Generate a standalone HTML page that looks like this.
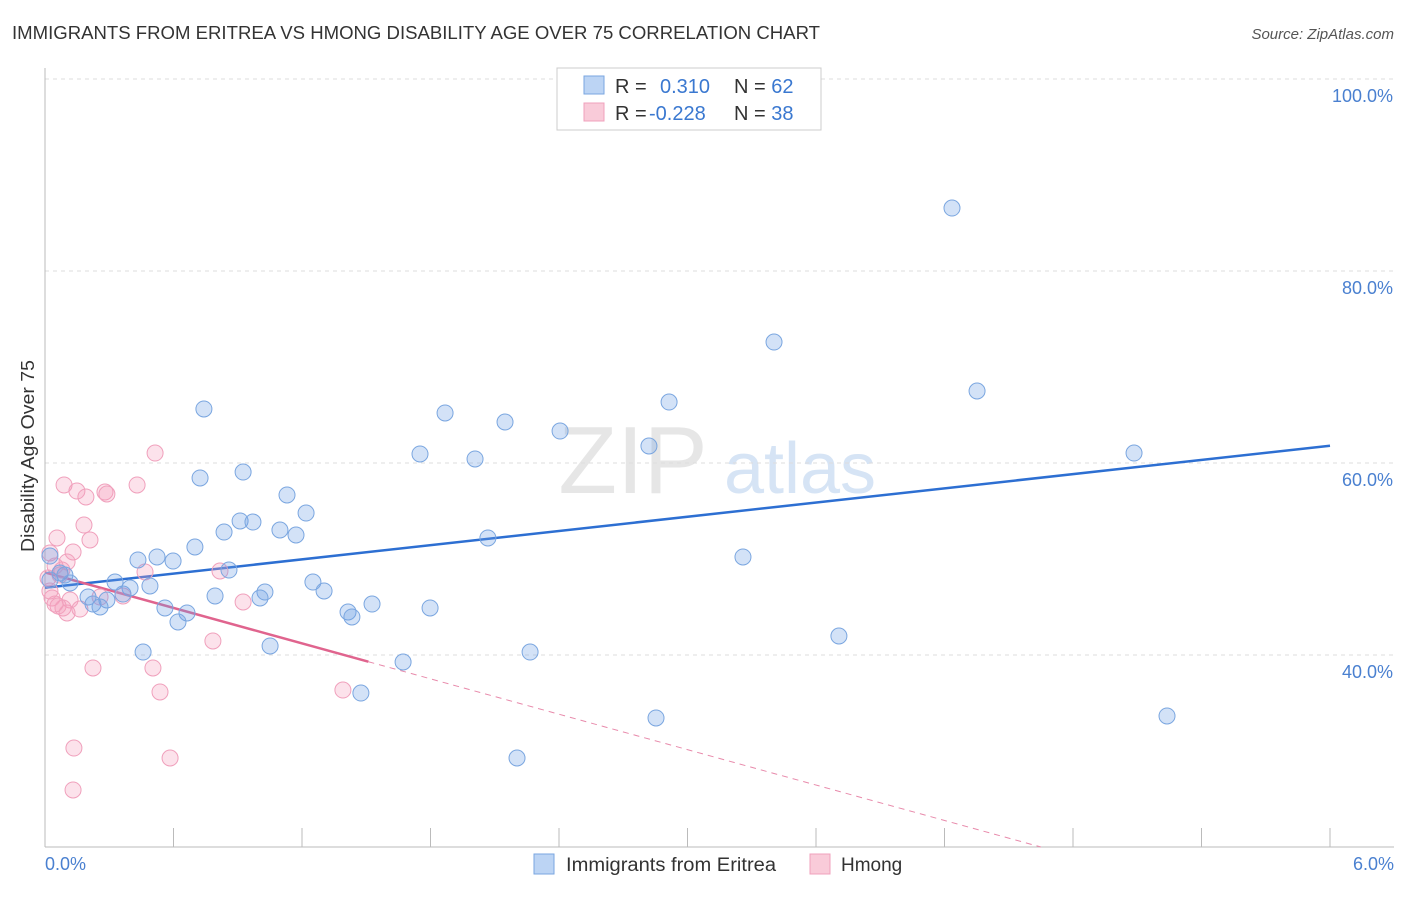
<!DOCTYPE html>
<html><head><meta charset="utf-8"><style>
body{margin:0;background:#fff;font-family:"Liberation Sans",sans-serif;}
svg text{font-family:"Liberation Sans",sans-serif;}
</style></head><body>
<svg id="chart" width="1406" height="892" xmlns="http://www.w3.org/2000/svg">
<text x="12" y="39" font-size="18" fill="#333" textLength="808" lengthAdjust="spacingAndGlyphs">IMMIGRANTS FROM ERITREA VS HMONG DISABILITY AGE OVER 75 CORRELATION CHART</text>
<text x="1394" y="39" font-size="15" fill="#555" font-style="italic" text-anchor="end">Source: ZipAtlas.com</text>
<text x="633" y="493" font-size="96" fill="#e6e6e6" font-family="Liberation Serif" text-anchor="middle">ZIP</text>
<text x="800" y="493" font-size="72" fill="#d6e4f5" text-anchor="middle">atlas</text>
<g id="grid"></g><g id="axes"></g><g id="lines"></g><g id="pts"></g>
<text transform="translate(34,456) rotate(-90)" font-size="18" fill="#333" text-anchor="middle" textLength="192" lengthAdjust="spacingAndGlyphs">Disability Age Over 75</text>
<text x="45" y="870" font-size="18" fill="#4a80d0">0.0%</text>
<text x="1394" y="870" font-size="18" fill="#4a80d0" text-anchor="end">6.0%</text>
<g>
<rect x="557" y="68" width="264" height="62" fill="#fff" stroke="#ccc"/>
<rect x="584" y="76" width="20" height="18" fill="#bcd4f4" stroke="#7aa6e0"/>
<rect x="584" y="103" width="20" height="18" fill="#f9cbd9" stroke="#f0a0bc"/>
<text x="615" y="93" font-size="20" fill="#333">R = <tspan fill="#3a78d0" x="660">0.310</tspan><tspan x="734" fill="#333">N = </tspan><tspan fill="#3a78d0">62</tspan></text>
<text x="615" y="120" font-size="20" fill="#333">R = <tspan fill="#3a78d0" x="649">-0.228</tspan><tspan x="734" fill="#333">N = </tspan><tspan fill="#3a78d0">38</tspan></text>
</g>
<g>
<rect x="534" y="854" width="20" height="20" fill="#bcd4f4" stroke="#7aa6e0"/>
<text x="566" y="871" font-size="19" fill="#333" textLength="210" lengthAdjust="spacingAndGlyphs">Immigrants from Eritrea</text>
<rect x="810" y="854" width="20" height="20" fill="#f9cbd9" stroke="#f0a0bc"/>
<text x="841" y="871" font-size="19" fill="#333">Hmong</text>
</g>
</svg>
<script>
const yTicks=[40,60,80,100];
const yTickLabels=["40.0%","60.0%","80.0%","100.0%"];
const xTicks=[0,0.6,1.2,1.8,2.4,3.0,3.6,4.2,4.8,5.4,6.0];
const bluePx=[[952,208],[774,342],[977,391],[204,409],[445,413],[669,402],[505,422],[560,431],[649,446],[1134,453],[420,454],[475,459],[243,472],[200,478],[287,495],[306,513],[240,521],[253,522],[224,532],[280,530],[296,535],[488,538],[195,547],[157,557],[173,561],[138,560],[743,557],[229,570],[313,582],[150,586],[115,582],[130,588],[123,594],[265,592],[324,591],[215,596],[260,598],[88,597],[107,600],[93,604],[100,607],[165,608],[187,613],[178,622],[372,604],[348,612],[352,617],[430,608],[839,636],[143,652],[270,646],[403,662],[530,652],[361,693],[656,718],[1167,716],[517,758],[50,556],[50,580],[60,573],[65,575],[70,583]];
const pinkPx=[[155,453],[64,485],[77,491],[105,492],[137,485],[86,497],[107,494],[84,525],[57,538],[90,540],[73,552],[50,553],[67,562],[55,566],[145,572],[220,571],[60,575],[48,578],[52,598],[70,600],[58,606],[80,609],[67,613],[123,596],[243,602],[213,641],[93,668],[153,668],[160,692],[343,690],[74,748],[170,758],[73,790],[63,608],[55,604],[50,591],[100,597],[62,570]];
const blueX=bluePx.map(p=>+((p[0]-45)*6/1285).toFixed(3));
const blueY=bluePx.map(p=>+(20+(847-p[1])*20/192).toFixed(2));
const pinkX=pinkPx.map(p=>+((p[0]-45)*6/1285).toFixed(3));
const pinkY=pinkPx.map(p=>+(20+(847-p[1])*20/192).toFixed(2));
const blueTrend=[[0,47.0],[6,61.8]];
const pinkTrend=[[0,48.6],[1.51,39.3],[4.65,20]];
const NS="http://www.w3.org/2000/svg";
const sx=v=>45+v*1285/6, sy=v=>847-(v-20)*192/20;
function mk(t,a,p){const e=document.createElementNS(NS,t);for(const k in a)e.setAttribute(k,a[k]);document.getElementById(p).appendChild(e);return e;}
yTicks.forEach((v,i)=>{
 const l=mk('line',{x1:45,x2:1394,y1:sy(v),y2:sy(v),stroke:'#ddd','stroke-dasharray':'4,4'},'grid');
 
 
 const t=mk('text',{x:1393,y:sy(v)+23,'font-size':18,fill:'#4a80d0','text-anchor':'end'},'grid');
 t.textContent=yTickLabels[i];
 
 
});
const ax=mk('line',{x1:45,x2:1394,y1:847,y2:847,stroke:'#bbb'},'axes');


const ay=mk('line',{x1:45,x2:45,y1:68,y2:847,stroke:'#bbb'},'axes');


xTicks.forEach(v=>{const t=mk('line',{x1:sx(v),x2:sx(v),y1:828,y2:847,stroke:'#bbb'},'axes');
 
 });
function dots(X,Y,fill,stroke,name){X.forEach((x,i)=>{const c=mk('circle',{cx:sx(x),cy:sy(Y[i]),r:8,fill:fill,stroke:stroke,'stroke-width':1},'pts');
 
 });}
dots(pinkX,pinkY,'rgba(244,160,190,0.3)','#f0a0bc','hmong-point');
dots(blueX,blueY,'rgba(110,160,230,0.3)','#7aa6e0','eritrea-point');
const bl=mk('line',{x1:sx(blueTrend[0][0]),y1:sy(blueTrend[0][1]),x2:sx(blueTrend[1][0]),y2:sy(blueTrend[1][1]),stroke:'#2d6fd2','stroke-width':2.5},'lines');


const pl=mk('line',{x1:sx(pinkTrend[0][0]),y1:sy(pinkTrend[0][1]),x2:sx(pinkTrend[1][0]),y2:sy(pinkTrend[1][1]),stroke:'#e0648e','stroke-width':2.5},'lines');


const pd=mk('line',{x1:sx(pinkTrend[1][0]),y1:sy(pinkTrend[1][1]),x2:sx(pinkTrend[2][0]),y2:sy(pinkTrend[2][1]),stroke:'#e88aab','stroke-width':1,'stroke-dasharray':'6,5'},'lines');


</script>
</body></html>
